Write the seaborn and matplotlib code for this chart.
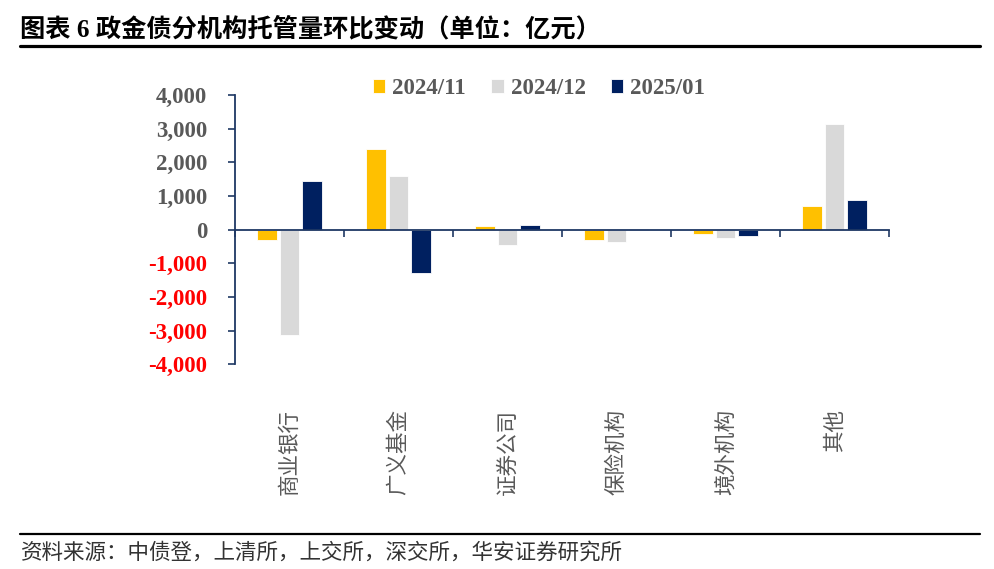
import matplotlib
matplotlib.use("Agg")
import matplotlib.pyplot as plt
import matplotlib.transforms as mtransforms
from matplotlib.lines import Line2D
import seaborn as sns
import pandas as pd

# ---- data ----
categories = ["商业银行", "广义基金", "证券公司", "保险机构", "境外机构", "其他"]
periods = ["2024/11", "2024/12", "2025/01"]
v_2024_11 = [-300, 2410, 120, -310, -140, 690]
v_2024_12 = [-3120, 1585, -470, -370, -240, 3150]
v_2025_01 = [1460, -1290, 130, 30, -180, 890]
yticks = [4000, 3000, 2000, 1000, 0, -1000, -2000, -3000, -4000]
ytick_labels = ["4,000", "3,000", "2,000", "1,000", "0", "-1,000", "-2,000", "-3,000", "-4,000"]
title = "图表 6 政金债分机构托管量环比变动（单位：亿元）"
source = "资料来源：中债登，上清所，上交所，深交所，华安证券研究所"

colors = ["#FFC000", "#D9D9D9", "#002060"]
axis_color = "#1F3864"

rows = []
for p, vals in zip(periods, [v_2024_11, v_2024_12, v_2025_01]):
    for c, v in zip(categories, vals):
        rows.append({"cat": c, "period": p, "val": v})
df = pd.DataFrame(rows)

sns.set_style("white")
plt.rcParams["font.family"] = ["Liberation Serif", "Noto Sans CJK SC", "DejaVu Sans"]

fig = plt.figure(figsize=(9.95, 5.69), dpi=100)
ax = fig.add_axes([0.2362, 0.3598, 0.6573, 0.4732])

sns.barplot(data=df, x="cat", y="val", hue="period", order=categories,
            hue_order=periods, palette=colors, saturation=1, width=0.62, gap=0.15,
            edgecolor="white", linewidth=0.6, ax=ax, legend=True)

ax.set_xlim(-0.5, len(categories) - 0.5)
ax.set_ylim(-4000, 4000)
ax.set_xlabel("")
ax.set_ylabel("")

# spines
for s in ["top", "right"]:
    ax.spines[s].set_visible(False)
ax.spines["bottom"].set_position(("data", 0))
ax.spines["bottom"].set_color(axis_color)
ax.spines["bottom"].set_linewidth(1.3)
ax.spines["left"].set_color(axis_color)
ax.spines["left"].set_linewidth(1.3)

# x ticks at category boundaries
ax.set_xticks([i - 0.5 for i in range(len(categories) + 1)])
ax.set_xticklabels([""] * (len(categories) + 1))
ax.tick_params(axis="x", direction="out", length=5, width=1.2, color=axis_color, bottom=True)

# y ticks
ax.set_yticks(yticks)
ax.set_yticklabels(ytick_labels)
ax.tick_params(axis="y", direction="out", length=5, width=1.2, color=axis_color, left=True, pad=15)
for lbl, v in zip(ax.get_yticklabels(), yticks):
    lbl.set_fontfamily("Liberation Serif")
    lbl.set_fontweight("bold")
    lbl.set_fontsize(16.5)
    lbl.set_color("#FF0000" if v < 0 else "#595959")

# category labels (vertical, below plot)
trans = mtransforms.blended_transform_factory(ax.transData, fig.transFigure)
for i, c in enumerate(categories):
    ax.text(i, 0.281, c, transform=trans, rotation=90, ha="center", va="top",
            fontsize=15.5, color="#595959", family=["Noto Sans CJK SC", "DejaVu Sans"])

# legend
handles, labels = ax.get_legend_handles_labels()
ax.legend(handles, labels, ncol=3, loc="center",
          bbox_to_anchor=(539 / 995, 1 - 88.5 / 569), bbox_transform=fig.transFigure,
          frameon=False, prop={"family": "Liberation Serif", "weight": "bold", "size": 16.5},
          labelcolor="#595959", handlelength=0.55, handleheight=0.55,
          handletextpad=0.3, columnspacing=1.1, borderaxespad=0, borderpad=0)

# title and source
fig.text(20 / 995, 1 - 29 / 569, title, ha="left", va="center", fontsize=18.2,
         fontweight="bold", color="black",
         family=["Liberation Serif", "Noto Sans CJK SC", "DejaVu Sans"])
fig.add_artist(Line2D([20 / 995, 980 / 995], [1 - 45.5 / 569, 1 - 45.5 / 569],
                      transform=fig.transFigure, color="black", linewidth=2.3))
fig.add_artist(Line2D([20 / 995, 980 / 995], [1 - 534 / 569, 1 - 534 / 569],
                      transform=fig.transFigure, color="black", linewidth=1.6))
fig.text(21 / 995, 1 - 553 / 569, source, ha="left", va="center", fontsize=15.5,
         color="#333333", family=["Noto Sans CJK SC", "DejaVu Sans"])

fig.save = None
fig.savefig("out.png", dpi=100)
